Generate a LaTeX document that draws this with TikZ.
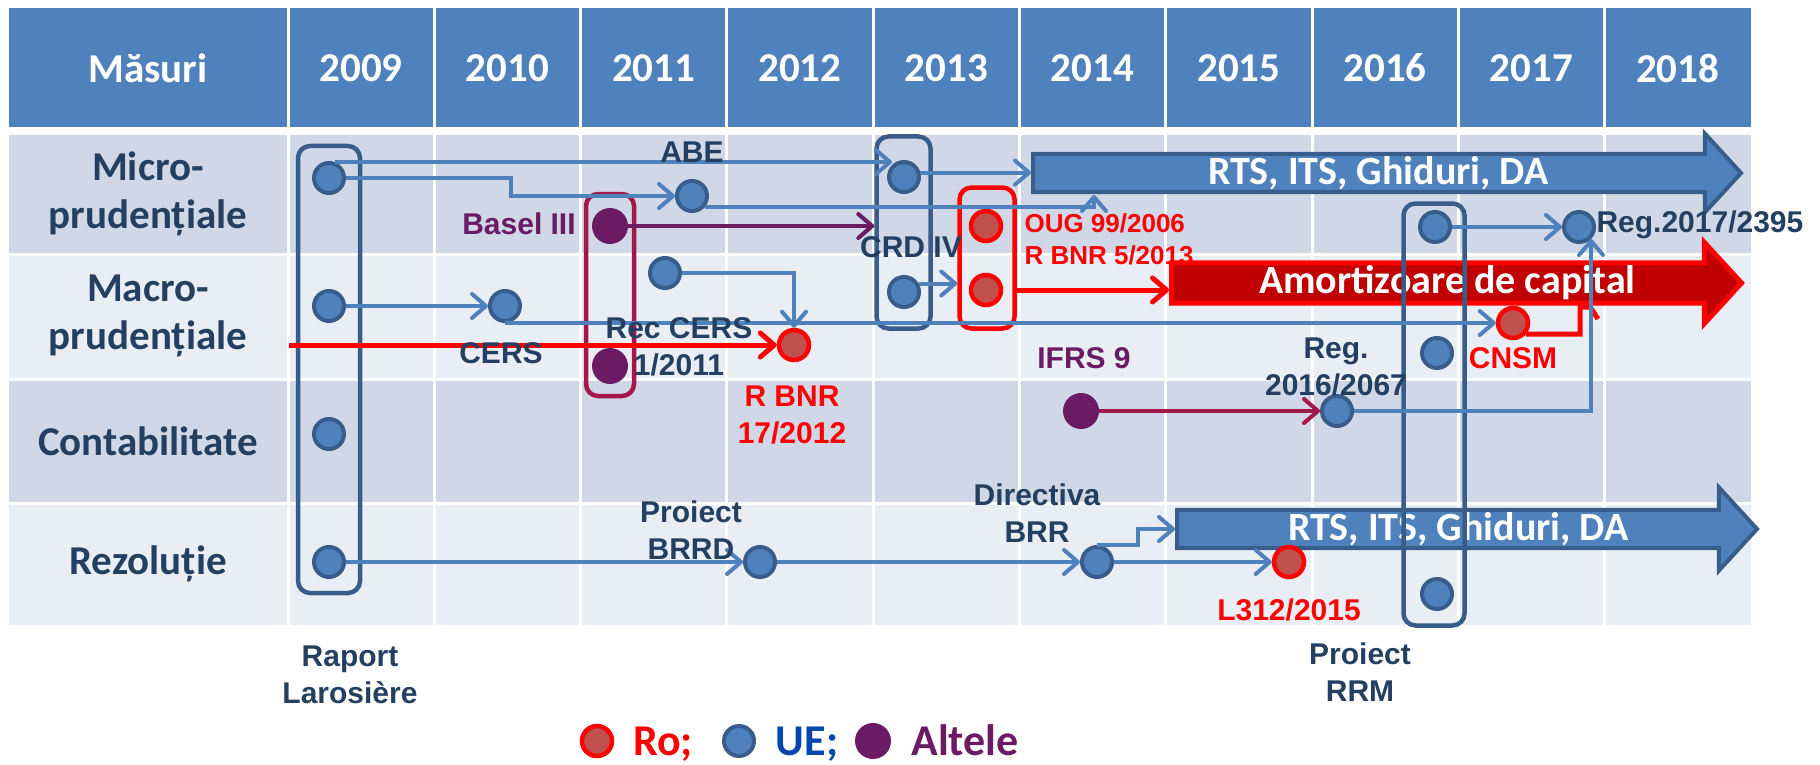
\documentclass[tikz,border=0pt]{standalone}
\usepackage{fontspec}
\setmainfont{Liberation Sans}
\newfontfamily\calibri{Carlito}
\usetikzlibrary{arrows.meta,shapes.arrows}

\definecolor{hdrblue}{HTML}{4F81BD}
\definecolor{banddark}{HTML}{D0D8E8}
\definecolor{bandlight}{HTML}{E9EDF4}
\definecolor{navy}{HTML}{243F60}
\definecolor{boxblue}{HTML}{385D8A}
\definecolor{rofill}{HTML}{C0504D}
\definecolor{altpurple}{HTML}{6A1B63}
\definecolor{crimson}{HTML}{A3174B}
\definecolor{darkred}{HTML}{C00000}
\definecolor{ueblue}{HTML}{0047AB}

\begin{document}
\begin{tikzpicture}[x=1pt,y=-1pt]
  \tikzset{ue/.style = {circle, draw=boxblue, fill=hdrblue, line width=4pt, minimum size=30pt, inner sep=0pt}}
  \tikzset{ro/.style = {circle, draw=red, fill=rofill, line width=4.5pt, minimum size=30pt, inner sep=0pt}}
  \tikzset{alt/.style = {circle, fill=altpurple, minimum size=36pt, inner sep=0pt}}
  \tikzset{grp/.style = {draw=#1, line width=4.5pt, rounded corners=12pt, inner sep=0pt}}
  \tikzset{blk/.style = {single arrow, single arrow tip angle=95, inner sep=0pt, text=white, font=\calibri\bfseries\fontsize{40}{48}\selectfont}}
  \tikzset{con/.style = {draw=#1, line width=4pt, -{Straight Barb[length=14pt,width=24pt,round]}}}
  \tikzset{hdr/.style = {text=white, font=\calibri\bfseries\fontsize{41}{48}\selectfont}}
  \tikzset{rowlbl/.style = {text=navy, align=center, font=\calibri\bfseries\fontsize{41}{48}\selectfont}}
  \tikzset{lbl/.style = {text=#1, align=center, font=\bfseries\fontsize{30}{37}\selectfont}, lbl/.default=navy}
  \tikzset{lgd/.style = {text=#1, anchor=base, font=\calibri\bfseries\fontsize{44}{50}\selectfont}}

  \def\colw{146.3}

  \useasboundingbox (0,0) rectangle (1820,765);

  % Table
  \fill[hdrblue] (9,8) rectangle (1751,127);
  \fill[banddark] (9,135) rectangle (1751,254);
  \fill[bandlight] (9,254) rectangle (1751,379);
  \fill[banddark] (9,379) rectangle (1751,503);
  \fill[bandlight] (9,503) rectangle (1751,625);
  \foreach \i in {0,...,9}
    \draw[white, line width=3pt] (288+\colw*\i,8) -- (288+\colw*\i,625);
  \foreach \yy in {254,379,503}
    \draw[white, line width=3pt] (9,\yy) -- (1751,\yy);

  \node[hdr] (masuri) at (148,68) {Măsuri};
  \foreach \yr [count=\i from 0] in {2009,...,2018}
    \node[hdr] (y\yr) at (361+\colw*\i,68) {\yr};

  \node[rowlbl] (micro) at (148,194) {Micro-\\prudențiale};
  \node[rowlbl] (macro) at (148,316) {Macro-\\prudențiale};
  \node[rowlbl] (contab) at (148,441) {Contabilitate};
  \node[rowlbl] (rezol) at (148,564) {Rezoluție};

  % Block arrows
  \node[blk, draw=boxblue, fill=hdrblue, line width=4pt, minimum height=708pt, minimum width=79pt,
        single arrow head extend=20pt, anchor=tail] (rtsA) at (1031,173) {RTS, ITS, Ghiduri, DA};
  \node[blk, draw=red, fill=darkred, line width=5pt, minimum height=570pt, minimum width=81pt,
        single arrow head extend=20pt, anchor=tail] (amor) at (1169,283) {Amortizoare de capital};
  \node[blk, draw=boxblue, fill=hdrblue, line width=4pt, minimum height=580pt, minimum width=83pt,
        single arrow head extend=22pt, anchor=tail] (rtsC) at (1175,529) {RTS, ITS, Ghiduri, DA};

  % Groups
  \node[grp=boxblue, minimum width=62pt, minimum height=447pt] (raport) at (329,369.5) {};
  \node[grp=crimson, minimum width=48pt, minimum height=202pt] (basel) at (610,295) {};
  \node[grp=boxblue, minimum width=54pt, minimum height=192pt] (crd) at (903.5,232.5) {};
  \node[grp=red, minimum width=55pt, minimum height=141pt] (ougbox) at (987,258) {};
  \node[grp=boxblue, minimum width=61pt, minimum height=422pt] (rrm) at (1434,414.5) {};

  % Dots
  \node[ue] (r1) at (329,178) {};
  \node[ue] (r2) at (329,306) {};
  \node[ue] (r3) at (329,434) {};
  \node[ue] (r4) at (329,562) {};
  \node[ue] (abe) at (692,196) {};
  \node[ue] (cers) at (505,306) {};
  \node[ue] (rec) at (665,273) {};
  \node[ue] (crd1) at (904,177) {};
  \node[ue] (crd2) at (904,292) {};
  \node[ue] (rrm1) at (1435,227) {};
  \node[ue] (rrm2) at (1437,353) {};
  \node[ue] (rrm3) at (1437,594) {};
  \node[ue] (reg17) at (1579,227) {};
  \node[ue] (reg16) at (1337,411) {};
  \node[ue] (brrd) at (760,562) {};
  \node[ue] (brr) at (1097,562) {};
  \node[ro] (rbnr) at (794,345) {};
  \node[ro] (oug1) at (986,226) {};
  \node[ro] (oug2) at (986,290) {};
  \node[ro] (cnsm) at (1513,323) {};
  \node[ro] (l312) at (1289,562) {};
  \node[alt] (bas1) at (610,226) {};
  \node[alt] (bas2) at (610,366) {};
  \node[alt] (ifrs) at (1081,411) {};

  \coordinate (redIn) at (289,345);
  \coordinate (abeEnd) at (1094,195);
  \coordinate (cnsmEnd) at (1580,307);

  % Connectors
  \draw[con=hdrblue] (r1.70) -- (r1.70 -| crd1.north west);
  \draw[con=hdrblue] (r1.east) -- ++(165,0) |- (abe.west);
  \draw[con=hdrblue] (abe.-40) -| (abeEnd);
  \draw[con=hdrblue] (crd1.15) -- (crd1.15 -| rtsA.tail);
  \draw[con=altpurple] (bas1.east) -- (bas1.east -| crd.west);
  \draw[con=hdrblue] (r2) -- (cers);
  \draw[con=hdrblue] (cers.south) -- (cers.south -| cnsm.west);
  \draw[con=red, line width=5pt] (redIn) -- (rbnr);
  \draw[con=hdrblue] (rec) -| (rbnr);
  \draw[con=hdrblue] (crd2.30) -- (crd2.30 -| ougbox.west);
  \draw[con=red, line width=5pt] (ougbox.east |- oug2) -- (oug2 -| amor.tail);
  \draw[red, line width=5pt] (cnsm.-40) -| (cnsmEnd) -- ++(10,0) -- ++(8,12);
  \draw[con=hdrblue] (rrm1) -- (reg17);
  \draw[con=hdrblue] (reg16.east) -| (reg17.south east);
  \draw[con=crimson] (ifrs) -- (reg16);
  \draw[con=hdrblue] (r4) -- (brrd);
  \draw[con=hdrblue] (brrd) -- (brr);
  \draw[con=hdrblue] (brr) -- (l312);
  \draw[con=hdrblue] (brr.north) -- ++(41,0) |- (rtsC.tail);

  % Labels
  \node[lbl] (abeT) at (692,152) {ABE};
  \node[lbl=altpurple] (baselT) at (519,224) {Basel III};
  \node[lbl] (cersT) at (501,353) {CERS};
  \node[lbl] (recT) at (679,347) {Rec CERS\\1/2011};
  \node[lbl=red] (rbnrT) at (792,415) {R BNR\\17/2012};
  \node[lbl] (crdT) at (911,247) {CRD IV};
  \node[lbl=red, font=\bfseries\fontsize{26}{32}\selectfont, anchor=west] (oug1T) at (1021,223) {OUG 99/2006};
  \node[lbl=red, font=\bfseries\fontsize{26}{32}\selectfont, anchor=west] (oug2T) at (1021,255) {R BNR 5/2013};
  \node[lbl=altpurple] (ifrsT) at (1084,358) {IFRS 9};
  \node[lbl] (reg16T) at (1336,367) {Reg.\\2016/2067};
  \node[lbl=red] (cnsmT) at (1513,358) {CNSM};
  \node[lbl, anchor=west] (reg17T) at (1593,225) {Reg.2017/2395};
  \node[lbl] (brrdT) at (691,530) {Proiect\\BRRD};
  \node[lbl] (brrT) at (1037,513) {Directiva\\BRR};
  \node[lbl=red] (l312T) at (1289,610) {L312/2015};
  \node[lbl] (raportT) at (350,675) {Raport\\Larosière};
  \node[lbl] (rrmT) at (1360,672) {Proiect\\RRM};

  % Legend
  \node[ro] (lgro) at (597,741) {};
  \node[lgd=red] (lgroT) at (663,755) {Ro;};
  \node[ue] (lgue) at (739,741) {};
  \node[lgd=ueblue] (lgueT) at (807,755) {UE;};
  \node[alt] (lgalt) at (873,741) {};
  \node[lgd=altpurple] (lgaltT) at (965,755) {Altele};
\end{tikzpicture}
\end{document}
